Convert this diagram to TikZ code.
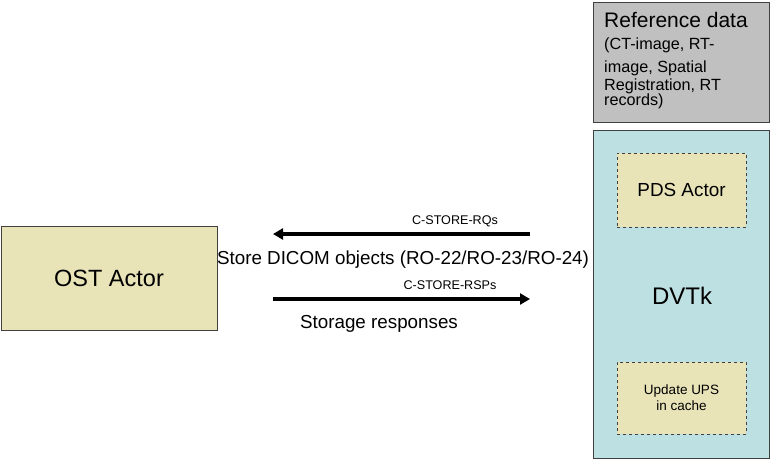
\documentclass[tikz,border=0pt]{standalone}
\usepackage{fontspec}
\setmainfont{Liberation Sans}
\usetikzlibrary{arrows.meta}
\definecolor{actorfill}{HTML}{E8E4B8}
\definecolor{dvtkfill}{HTML}{BDE0E3}
\definecolor{reffill}{HTML}{C0C0C0}
\definecolor{edge}{HTML}{404040}
\tikzset{
  actorbox/.style={draw=edge, fill=actorfill, line width=0.9pt, inner sep=0pt},
  subbox/.style={draw=edge, fill=actorfill, dashed, line width=0.8pt, inner sep=0pt, align=center},
  msgarrow/.style={line width=3.4pt, -{Triangle[length=10pt,width=11pt]}},
  small/.style={font=\fontsize{12.6}{14}\selectfont},
  mid/.style={font=\fontsize{18.8}{22}\selectfont},
  reflines/.style={anchor=base west, inner sep=0pt, font=\fontsize{16.2}{18}\selectfont},
}
\begin{document}
\begin{tikzpicture}[x=1pt,y=-1pt]
\useasboundingbox (0,0) rectangle (771,460);
% Reference data
\node[draw=edge, fill=reffill, line width=0.9pt, minimum width=176pt, minimum height=120pt] (ref) at (681,62) {};
\node[anchor=base west, inner sep=0pt, font=\fontsize{21}{24}\selectfont] (reft) at (604,28) {Reference data};
\node[reflines] (ref1) at (604,50) {(CT-image, RT-};
\node[reflines] (ref2) at (604,73) {image, Spatial};
\node[reflines] (ref3) at (604,90) {Registration, RT};
\node[reflines] (ref4) at (604,106) {records)};
% DVTk
\node[draw=edge, fill=dvtkfill, line width=0.9pt, minimum width=176pt, minimum height=328pt] (dvtk) at (681,294) {};
\node[font=\fontsize{24}{28}\selectfont] (dvtkt) at (682,296) {DVTk};
\node[subbox, minimum width=129pt, minimum height=74pt, font=\fontsize{18.9}{21}\selectfont] (pds) at (681.5,190) {PDS Actor};
\node[subbox, minimum width=129pt, minimum height=72pt, font=\fontsize{13.5}{16}\selectfont] (ups) at (681.5,398) {Update UPS\\in cache};
% OST
\node[actorbox, minimum width=216pt, minimum height=104pt, font=\fontsize{23.5}{28}\selectfont] (ost) at (109,278) {OST Actor};
% arrows
\coordinate (rqa) at (530,234);
\coordinate (rqb) at (273,234);
\coordinate (rsa) at (273,299);
\coordinate (rsb) at (530,299);
\draw[msgarrow] (rqa) -- (rqb);
\draw[msgarrow] (rsa) -- (rsb);
\node[small] (rqlbl) at (455,221) {C-STORE-RQs};
\node[small] (rslbl) at (450,285) {C-STORE-RSPs};
\node[mid] (store) at (403,260) {Store DICOM objects (RO-22/RO-23/RO-24)};
\node[mid] (resp) at (379,324) {Storage responses};
\end{tikzpicture}
\end{document}
